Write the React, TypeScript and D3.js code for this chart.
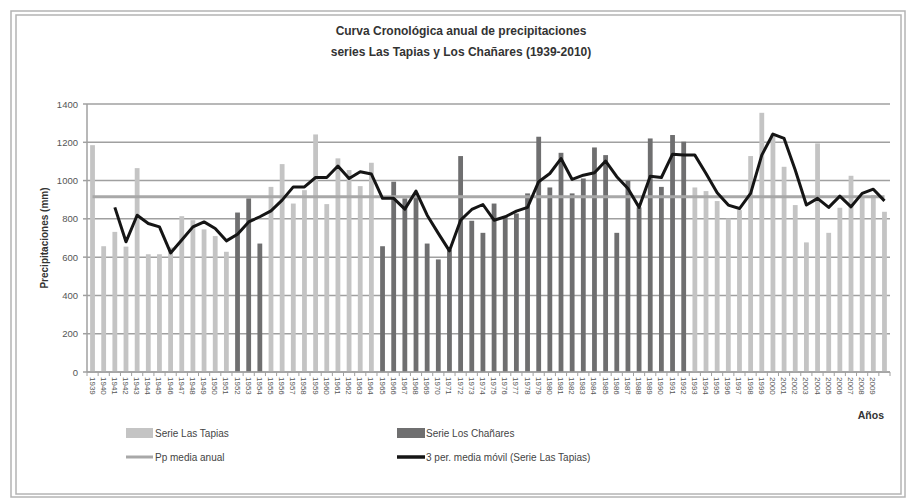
import React from 'react';
import * as d3 from 'd3';

// years on the x axis (last category has no printed label in the source)
const years = d3.range(1939, 2011);

// Serie Las Tapias (null where the Los Chañares bar is shown)
const lasTapias = [
  1185, 657, 732, 655, 1065, 615, 615, 650, 814, 793, 745, 710, 628, null, null, null,
  967, 1086, 880, 950, 1241, 877, 1116, 1055, 971, 1093,
  null, null, null, null, null, null, null, null, null, null, null, null, null, null,
  null, null, null, null, null, null, null, null, null, null, null, null, null, null,
  964, 945, 893, 802, 846, 1128, 1354, 1245, 1072, 872, 677, 1194, 727, 858, 1025, 920, 925, 837
];

// Serie Los Chañares
const losChanares = [
  null, null, null, null, null, null, null, null, null, null, null, null, null, 833, 907, 671,
  null, null, null, null, null, null, null, null, null, null,
  657, 994, 907, 935, 671, 588, 640, 1128, 790, 727, 880, 814, 828, 933,
  1229, 964, 1145, 933, 1011, 1173, 1133, 727, 999, 860, 1220, 967, 1238, 1203,
  null, null, null, null, null, null, null, null, null, null, null, null, null, null, null, null, null, null
];

// 3 per. media móvil
const mediaMovil = [
  null, null, 860, 680, 819, 776, 758, 622, 689, 758, 784, 750, 685, 720, 784, 811,
  842, 898, 967, 967, 1016, 1016, 1076, 1011, 1046, 1034, 907, 907, 851, 945,
  819, 724, 633, 793, 849, 875, 793, 811, 840, 860, 994, 1037, 1115, 1006,
  1028, 1041, 1102, 1020, 959, 860, 1023, 1016, 1138, 1133, 1133, 1037, 936, 872,
  854, 933, 1133, 1243, 1220, 1055, 872, 907, 860, 919, 863, 933, 955, 894
];

const mediaAnual = 915;
const yTicks = [0, 200, 400, 600, 800, 1000, 1200, 1400];

const W = 912;
const H = 499;
const plot = { left: 87, right: 890, top: 104, bottom: 372 };
const font = '"Liberation Sans", Arial, sans-serif';

export default function App() {
  const x = d3.scaleBand<number>().domain(years).range([plot.left, plot.right]).paddingInner(0.57).paddingOuter(0.28);
  const y = d3.scaleLinear().domain([0, 1400]).range([plot.bottom, plot.top]);
  const cx = (yr: number) => (x(yr) as number) + x.bandwidth() / 2;
  const step = (plot.right - plot.left) / years.length;

  const line = d3.line<number | null>()
    .defined((d) => d !== null)
    .x((_, i) => cx(years[i]))
    .y((d) => y(d as number));

  const bar = (vals: (number | null)[], fill: string, key: string) =>
    vals.map((v, i) => v === null ? null : (
      <rect key={key + i} x={x(years[i])} y={y(v)} width={x.bandwidth()} height={y(0) - y(v)} fill={fill} />
    ));

  return (
    <svg width={W} height={H} style={{ position: 'absolute', left: 0, top: 0, background: '#fff' }}>
      <rect x={11} y={11} width={894} height={486} fill="none" stroke="#b4b4b4" strokeWidth={1.5} />
      <rect x={16} y={15} width={885} height={479} fill="none" stroke="#b4b4b4" strokeWidth={1.5} />

      <text x={461} y={35} textAnchor="middle" fontFamily={font} fontWeight="bold" fontSize={12} fill="#333">
        Curva Cronológica anual de precipitaciones
      </text>
      <text x={461} y={56} textAnchor="middle" fontFamily={font} fontWeight="bold" fontSize={12} fill="#333">
        series Las Tapias y Los Chañares (1939-2010)
      </text>

      {/* grid + y axis */}
      {yTicks.map((t) => (
        <g key={'g' + t}>
          <line x1={plot.left} x2={plot.right} y1={y(t)} y2={y(t)} stroke="#a0a0a0" strokeWidth={1.5} />
          <line x1={plot.left - 4} x2={plot.left} y1={y(t)} y2={y(t)} stroke="#a0a0a0" strokeWidth={1.5} />
          <text x={78} y={y(t) + 3.5} textAnchor="end" fontFamily={font} fontSize={9.5} fill="#555">{t}</text>
        </g>
      ))}
      <line x1={plot.left} x2={plot.left} y1={plot.top} y2={plot.bottom} stroke="#a0a0a0" strokeWidth={1.5} />
      <text transform={`translate(48,${(plot.top + plot.bottom) / 2}) rotate(-90)`} textAnchor="middle"
        fontFamily={font} fontWeight="bold" fontSize={10} fill="#333">Precipitaciones (mm)</text>

      {bar(lasTapias, '#c4c4c4', 't')}
      {bar(losChanares, '#6f6f70', 'c')}

      {/* x axis */}
      <line x1={plot.left} x2={plot.right} y1={plot.bottom} y2={plot.bottom} stroke="#a0a0a0" strokeWidth={1.5} />
      {d3.range(years.length + 1).map((i) => (
        <line key={'xt' + i} x1={plot.left + i * step} x2={plot.left + i * step} y1={plot.bottom} y2={plot.bottom + 4} stroke="#a0a0a0" />
      ))}
      {years.filter((yr) => yr < 2010).map((yr) => (
        <text key={'xl' + yr} transform={`translate(${cx(yr) - 3},${plot.bottom + 5}) rotate(90)`}
          fontFamily={font} fontSize={8} fill="#555">{yr}</text>
      ))}
      <text x={884} y={419} textAnchor="end" fontFamily={font} fontWeight="bold" fontSize={10.5} fill="#333">Años</text>

      <line x1={cx(years[0])} x2={cx(years[years.length - 1])} y1={y(mediaAnual)} y2={y(mediaAnual)} stroke="#a8a8a8" strokeWidth={3} />
      <path d={line(mediaMovil) || ''} fill="none" stroke="#151515" strokeWidth={3} strokeLinejoin="round" />

      {/* legend */}
      <rect x={126} y={428} width={27} height={10} fill="#c4c4c4" />
      <text x={155} y={437} fontFamily={font} fontSize={10} fill="#444">Serie Las Tapias</text>
      <rect x={397} y={428} width={28} height={10} fill="#6f6f70" />
      <text x={426} y={437} fontFamily={font} fontSize={10} fill="#444">Serie Los Chañares</text>
      <line x1={126} x2={153} y1={457} y2={457} stroke="#a8a8a8" strokeWidth={3} />
      <text x={155} y={461} fontFamily={font} fontSize={10} fill="#444">Pp media anual</text>
      <line x1={397} x2={425} y1={457} y2={457} stroke="#151515" strokeWidth={3.5} />
      <text x={426} y={461} fontFamily={font} fontSize={10} fill="#444">3 per. media móvil (Serie Las Tapias)</text>
    </svg>
  );
}
